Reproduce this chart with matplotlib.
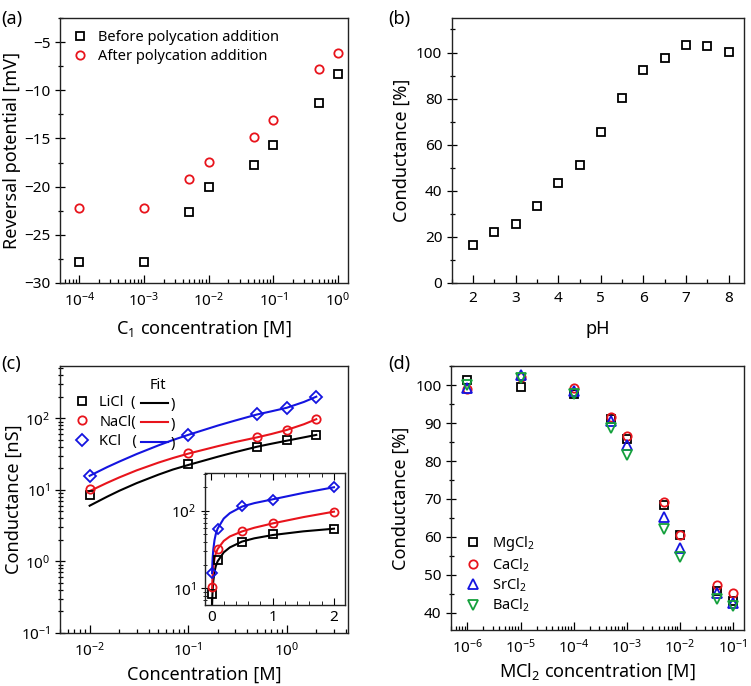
import matplotlib
matplotlib.use('Agg')
import matplotlib.pyplot as plt
from matplotlib.ticker import MultipleLocator, LogLocator, NullFormatter

plt.rcParams['font.family'] = ['Noto Sans', 'DejaVu Sans']
plt.rcParams['mathtext.default'] = 'regular'
plt.rcParams['axes.linewidth'] = 1.0
plt.rcParams['axes.edgecolor'] = '#222222'

red = '#e8141c'
blue = '#1414e0'
green = '#14a03c'

# (a) reversal potential
c1_conc = [1e-4, 1e-3, 5e-3, 1e-2, 5e-2, 0.1, 0.5, 1.0]
erev_before = [-27.8, -27.8, -22.6, -20.0, -17.8, -15.7, -11.3, -8.3]
erev_after = [-22.2, -22.2, -19.2, -17.4, -14.9, -13.1, -7.8, -6.1]

# (b) conductance vs pH
ph = [2, 2.5, 3, 3.5, 4, 4.5, 5, 5.5, 6, 6.5, 7, 7.5, 8]
g_ph = [16.5, 22.0, 25.4, 33.3, 43.3, 51.2, 65.7, 80.3, 92.5, 97.7, 103.2, 103.0, 100.1]

# (c) conductance vs salt concentration
salt_conc = [0.01, 0.1, 0.5, 1.0, 2.0]
g_licl = [8.5, 23.0, 40.0, 49.5, 58.5]
g_nacl = [10.3, 32.5, 54.0, 69.0, 97.0]
g_kcl = [15.7, 58.5, 115.0, 139.0, 199.0]
fit_conc = [0.01, 0.015, 0.02, 0.03, 0.05, 0.07, 0.1, 0.2, 0.3, 0.5, 0.7, 1.0, 1.5, 2.0]
fit_licl = [6.0, 8.0, 9.7, 12.4, 16.3, 19.2, 22.2, 29.0, 33.6, 40.0, 44.0, 48.5, 54.1, 58.5]
fit_nacl = [9.6, 12.5, 14.9, 18.7, 24.0, 27.8, 32.0, 40.7, 46.5, 54.0, 60.2, 68.5, 82.5, 97.0]
fit_kcl = [15.7, 20.7, 24.8, 31.6, 41.8, 49.6, 58.5, 79.0, 92.8, 112.8, 124.9, 139.8, 169.0, 200.0]

# (d) conductance vs MCl2 concentration
mcl2_conc = [1e-6, 1e-5, 1e-4, 5e-4, 1e-3, 5e-3, 1e-2, 5e-2, 1e-1]
g_mg = [101.4, 99.6, 97.7, 91.0, 85.9, 68.5, 60.5, 45.7, 43.1]
g_ca = [98.9, 102.2, 99.4, 91.7, 86.6, 69.2, 60.5, 47.3, 45.3]
g_sr = [99.2, 102.7, 98.6, 90.6, 84.2, 65.3, 57.0, 45.1, 42.6]
g_ba = [100.2, 102.0, 97.6, 88.8, 81.6, 62.0, 54.7, 43.5, 41.8]

fs_tick = 11
fs_label = 13

fig = plt.figure(figsize=(7.51, 6.86), dpi=100)


def style(ax):
    ax.tick_params(axis='x', which='both', direction='in', top=False, labelsize=fs_tick, pad=6)
    ax.tick_params(axis='y', which='both', direction='inout', right=False, labelsize=fs_tick)
    ax.tick_params(axis='x', which='major', length=5.5, width=0.9)
    ax.tick_params(axis='x', which='minor', length=3, width=0.9)
    ax.tick_params(axis='y', which='major', length=6.5, width=0.9)
    ax.tick_params(axis='y', which='minor', length=3.6, width=0.9)


mk = dict(linestyle='none', markerfacecolor='none', markeredgewidth=1.3)

# ---- (a)
ax = fig.add_axes([0.0799, 0.5875, 0.3835, 0.3863])
ax.plot(c1_conc, erev_before, marker='s', markersize=5.5, markeredgecolor='black',
        label='Before polycation addition', **mk)
ax.plot(c1_conc, erev_after, marker='o', markersize=6, markeredgecolor=red,
        label='After polycation addition', **mk)
ax.set_xscale('log')
ax.set_xlim(10**-4.3, 10**0.154)
ax.set_ylim(-30, -2.5)
ax.yaxis.set_major_locator(MultipleLocator(5))
ax.yaxis.set_minor_locator(MultipleLocator(2.5))
ax.xaxis.set_minor_locator(LogLocator(base=10, subs=range(2, 10), numticks=20))
ax.xaxis.set_minor_formatter(NullFormatter())
style(ax)
ax.set_xlabel('C$_1$ concentration [M]', fontsize=fs_label, labelpad=6)
ax.set_ylabel('Reversal potential [mV]', fontsize=fs_label)
ax.yaxis.set_label_coords(-0.135, 0.5)
ax.legend(loc='upper left', frameon=False, fontsize=10.5, handletextpad=0.6,
          borderaxespad=0.4, labelspacing=0.3, handlelength=1.2)
fig.text(0.002, 0.985, '(a)', fontsize=13, va='top')

# ---- (b)
ax = fig.add_axes([0.6015, 0.5875, 0.3892, 0.3863])
ax.plot(ph, g_ph, marker='s', markersize=5.6, markeredgecolor='black', **mk)
ax.set_xlim(1.5, 8.36)
ax.set_ylim(0, 115)
ax.xaxis.set_major_locator(MultipleLocator(1))
ax.xaxis.set_minor_locator(MultipleLocator(0.5))
ax.yaxis.set_major_locator(MultipleLocator(20))
ax.yaxis.set_minor_locator(MultipleLocator(10))
style(ax)
ax.set_xlabel('pH', fontsize=fs_label, labelpad=10)
ax.set_ylabel('Conductance [%]', fontsize=fs_label)
fig.text(0.517, 0.985, '(b)', fontsize=13, va='top')

# ---- (c)
ax = fig.add_axes([0.0799, 0.0773, 0.3835, 0.3892])
l1, = ax.plot(fit_conc, fit_licl, color='black', lw=1.5)
l2, = ax.plot(fit_conc, fit_nacl, color=red, lw=1.5)
l3, = ax.plot(fit_conc, fit_kcl, color=blue, lw=1.5)
m1, = ax.plot(salt_conc, g_licl, marker='s', markersize=5.5, markeredgecolor='black', **mk)
m2, = ax.plot(salt_conc, g_nacl, marker='o', markersize=6, markeredgecolor=red, **mk)
m3, = ax.plot(salt_conc, g_kcl, marker='D', markersize=5.8, markeredgecolor=blue, **mk)
ax.set_xscale('log')
ax.set_yscale('log')
ax.set_xlim(0.005, 4.2)
ax.set_ylim(0.1, 10**2.73)
ax.xaxis.set_minor_locator(LogLocator(base=10, subs=range(2, 10), numticks=20))
ax.xaxis.set_minor_formatter(NullFormatter())
ax.yaxis.set_minor_locator(LogLocator(base=10, subs=range(2, 10), numticks=20))
ax.yaxis.set_minor_formatter(NullFormatter())
style(ax)
ax.set_xlabel('Concentration [M]', fontsize=fs_label, labelpad=4)
ax.set_ylabel('Conductance [nS]', fontsize=fs_label)
ax.yaxis.set_label_coords(-0.13, 0.5)
leg1 = ax.legend([m1, m2, m3], ['LiCl  (', 'NaCl(', 'KCl   ('], loc='upper left',
                 bbox_to_anchor=(0.0, 0.94), frameon=False, fontsize=10.5,
                 handletextpad=0.6, labelspacing=0.3, handlelength=1.2)
ax.add_artist(leg1)
ax.legend([l1, l2, l3], [')', ')', ')'], loc='upper left', bbox_to_anchor=(0.237, 1.005),
          title='Fit', title_fontsize=10.5, frameon=False, fontsize=10.5,
          handletextpad=0.2, labelspacing=0.3, handlelength=1.8)
fig.text(0.002, 0.482, '(c)', fontsize=13, va='top')

# inset
axi = fig.add_axes([0.273, 0.1181, 0.1864, 0.1924])
axi.plot(fit_conc, fit_licl, color='black', lw=1.5)
axi.plot(fit_conc, fit_nacl, color=red, lw=1.5)
axi.plot(fit_conc, fit_kcl, color=blue, lw=1.5)
axi.plot(salt_conc, g_licl, marker='s', markersize=5.3, markeredgecolor='black', **mk)
axi.plot(salt_conc, g_nacl, marker='o', markersize=5.8, markeredgecolor=red, **mk)
axi.plot(salt_conc, g_kcl, marker='D', markersize=5.6, markeredgecolor=blue, **mk)
axi.set_yscale('log')
axi.set_xlim(-0.105, 2.18)
axi.set_ylim(6.1, 305)
axi.xaxis.set_major_locator(MultipleLocator(1))
axi.xaxis.set_minor_locator(MultipleLocator(0.2))
axi.yaxis.set_minor_locator(LogLocator(base=10, subs=range(2, 10), numticks=20))
axi.yaxis.set_minor_formatter(NullFormatter())
axi.tick_params(axis='x', which='both', direction='in', top=True, labelsize=fs_tick)
axi.tick_params(axis='y', which='both', direction='inout', labelsize=fs_tick)
axi.tick_params(axis='x', which='major', length=5)
axi.tick_params(axis='x', which='minor', length=3)
axi.tick_params(axis='y', which='major', length=6)
axi.tick_params(axis='y', which='minor', length=3.5)
axi.patch.set_facecolor('white')

# ---- (d)
ax = fig.add_axes([0.6005, 0.0816, 0.3902, 0.3849])
ax.plot(mcl2_conc, g_mg, marker='s', markersize=5.5, markeredgecolor='black', label='MgCl$_2$', **mk)
ax.plot(mcl2_conc, g_ca, marker='o', markersize=6, markeredgecolor=red, label='CaCl$_2$', **mk)
ax.plot(mcl2_conc, g_sr, marker='^', markersize=7.2, markeredgecolor=blue, label='SrCl$_2$', **mk)
ax.plot(mcl2_conc, g_ba, marker='v', markersize=7.2, markeredgecolor=green, label='BaCl$_2$', **mk)
ax.set_xscale('log')
ax.set_xlim(10**-6.31, 10**-0.79)
ax.set_ylim(35.4, 105.1)
ax.yaxis.set_major_locator(MultipleLocator(10))
ax.yaxis.set_minor_locator(MultipleLocator(5))
ax.xaxis.set_minor_locator(LogLocator(base=10, subs=range(2, 10), numticks=20))
ax.xaxis.set_minor_formatter(NullFormatter())
style(ax)
ax.set_xlabel('MCl$_2$ concentration [M]', fontsize=fs_label, labelpad=3)
ax.set_ylabel('Conductance [%]', fontsize=fs_label)
ax.legend(loc='lower left', bbox_to_anchor=(0.0, 0.01), frameon=False, fontsize=10.5,
          handletextpad=0.7, labelspacing=0.2, handlelength=1.2)
fig.text(0.517, 0.482, '(d)', fontsize=13, va='top')

fig.savefig('out.png', dpi=100)
